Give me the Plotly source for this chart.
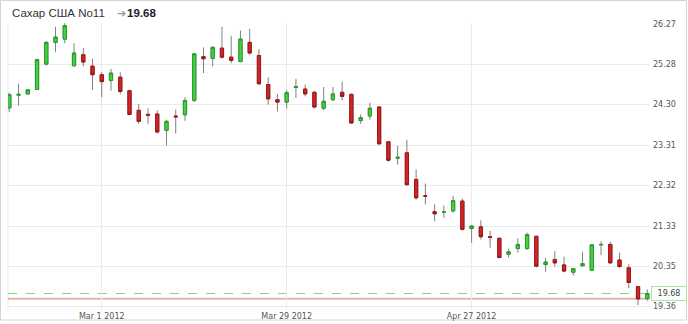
import plotly.graph_objects as go

# ---------------- data ----------------
dates = [
    "2012-02-15", "2012-02-16", "2012-02-17", "2012-02-21", "2012-02-22", "2012-02-23", "2012-02-24",
    "2012-02-27", "2012-02-28", "2012-02-29",
    "2012-03-01", "2012-03-02", "2012-03-05", "2012-03-06", "2012-03-07", "2012-03-08", "2012-03-09",
    "2012-03-12", "2012-03-13", "2012-03-14", "2012-03-15", "2012-03-16", "2012-03-19", "2012-03-20",
    "2012-03-21", "2012-03-22", "2012-03-23", "2012-03-26", "2012-03-27", "2012-03-28", "2012-03-29",
    "2012-03-30",
    "2012-04-02", "2012-04-03", "2012-04-04", "2012-04-05", "2012-04-09", "2012-04-10", "2012-04-11",
    "2012-04-12", "2012-04-13", "2012-04-16", "2012-04-17", "2012-04-18", "2012-04-19", "2012-04-20",
    "2012-04-23", "2012-04-24", "2012-04-25", "2012-04-26", "2012-04-27", "2012-04-30",
    "2012-05-01", "2012-05-02", "2012-05-03", "2012-05-04", "2012-05-07", "2012-05-08", "2012-05-09",
    "2012-05-10", "2012-05-11", "2012-05-14", "2012-05-15", "2012-05-16", "2012-05-17", "2012-05-18",
    "2012-05-21", "2012-05-22", "2012-05-23", "2012-05-24",
]
opens = [
    24.22, 24.53, 24.56, 24.67, 25.29, 25.82, 25.90, 25.25, 25.52, 25.24,
    25.03, 24.89, 24.97, 24.64, 24.16, 24.06, 24.07, 23.67, 24.02, 24.05,
    24.40, 25.47, 25.43, 25.68, 25.46, 25.35, 25.82, 25.50, 24.79, 24.42,
    24.36, 24.72, 24.68, 24.60, 24.21, 24.42, 24.60, 24.55, 23.91, 24.02,
    24.24, 23.39, 22.99, 23.12, 22.47, 22.07, 21.68, 21.67, 21.70, 21.94,
    21.27, 21.31, 21.07, 21.03, 20.64, 20.78, 20.78, 21.08, 20.39, 20.51,
    20.38, 20.20, 20.36, 20.25, 20.87, 20.88, 20.50, 20.31, 19.85, 19.56,
]
highs = [
    24.59, 24.81, 24.68, 25.42, 25.85, 26.20, 26.29, 25.80, 25.68, 25.42,
    25.09, 25.17, 25.09, 24.66, 24.32, 24.21, 24.16, 23.93, 24.18, 24.48,
    25.56, 25.70, 25.72, 26.20, 25.98, 26.11, 26.15, 25.66, 24.97, 24.56,
    24.66, 24.93, 24.79, 24.63, 24.73, 24.73, 24.86, 24.57, 24.06, 24.34,
    24.26, 23.40, 23.29, 23.44, 22.71, 22.37, 21.86, 21.83, 22.07, 22.00,
    21.35, 21.47, 21.21, 21.05, 20.78, 21.03, 21.17, 21.08, 20.55, 20.72,
    20.58, 20.31, 20.70, 20.87, 20.96, 20.95, 20.68, 20.39, 19.86, 19.78,
]
lows = [
    24.12, 24.27, 24.54, 24.66, 25.25, 25.58, 25.80, 25.23, 25.23, 24.66,
    24.48, 24.64, 24.56, 24.04, 23.83, 23.83, 23.59, 23.30, 23.59, 23.90,
    24.36, 25.07, 25.23, 25.42, 25.31, 25.34, 25.52, 24.77, 24.30, 24.13,
    24.20, 24.46, 24.50, 24.21, 24.16, 24.38, 24.40, 23.83, 23.83, 23.93,
    23.32, 22.90, 22.83, 22.33, 21.98, 21.86, 21.45, 21.53, 21.66, 21.22,
    20.92, 21.00, 20.80, 20.54, 20.56, 20.68, 20.74, 20.32, 20.21, 20.34,
    20.20, 20.12, 20.34, 20.23, 20.62, 20.41, 20.31, 19.81, 19.40, 19.50,
]
closes = [
    24.54, 24.55, 24.66, 25.40, 25.82, 25.95, 26.23, 25.56, 25.34, 25.03,
    24.86, 25.07, 24.62, 24.06, 23.89, 24.04, 23.63, 23.89, 24.00, 24.40,
    25.54, 25.42, 25.70, 25.46, 25.38, 25.90, 25.56, 24.81, 24.44, 24.36,
    24.59, 24.74, 24.56, 24.24, 24.38, 24.56, 24.50, 23.85, 23.98, 24.21,
    23.34, 22.94, 23.01, 22.34, 22.02, 22.06, 21.63, 21.68, 21.95, 21.25,
    21.33, 21.07, 21.05, 20.56, 20.70, 20.88, 21.12, 20.35, 20.45, 20.43,
    20.23, 20.29, 20.41, 20.87, 20.88, 20.43, 20.34, 19.95, 19.55, 19.68,
]
ytick_vals = [26.27, 25.28, 24.30, 23.31, 22.32, 21.33, 20.35, 19.36]
xtick_dates = ["2012-03-01", "2012-03-29", "2012-04-27"]
xtick_labels = ["Mar 1 2012", "Mar 29 2012", "Apr 27 2012"]
title_text = "Сахар США No11"
last_price = 19.68
prev_close = 19.55

# ---------------- layout geometry ----------------
W, H = 688, 324
L, R, T, B = 8, 38, 23, 14
PW, PH = W - L - R, H - T - B


def px(x):
    return (x - L) / PW


def py(y):
    return (H - B - y) / PH


WICK = "#808080"
G_FILL, G_LINE = "#3fd43f", "#2a9a2a"
R_FILL, R_LINE = "#d42424", "#9c1515"
GRID = "#ebebeb"

body_hi = [max(o, c) for o, c in zip(opens, closes)]
body_lo = [min(o, c) for o, c in zip(opens, closes)]

fig = go.Figure()
fig.add_trace(go.Candlestick(
    x=dates, open=opens, high=highs, low=lows, close=closes,
    increasing=dict(line=dict(color=WICK, width=1), fillcolor=WICK),
    decreasing=dict(line=dict(color=WICK, width=1), fillcolor=WICK),
    whiskerwidth=0, hoverinfo="skip", showlegend=False,
))
fig.add_trace(go.Candlestick(
    x=dates, open=opens, high=body_hi, low=body_lo, close=closes,
    increasing=dict(line=dict(color=G_LINE, width=1), fillcolor=G_FILL),
    decreasing=dict(line=dict(color=R_LINE, width=1), fillcolor=R_FILL),
    whiskerwidth=0, showlegend=False,
))

x_lo = (L - 9.3) / 9.246
x_hi = x_lo + PW / 9.246
y_top = 26.27 + (24 - T) / 40.9
y_bot = 26.27 - (H - B - 24) / 40.9

tickfont = dict(family="DejaVu Sans", size=8, color="#555555")

fig.update_layout(
    width=W, height=H,
    margin=dict(l=L, r=R, t=T, b=B, pad=0, autoexpand=False),
    paper_bgcolor="white", plot_bgcolor="white",
    boxgap=0.5,
    xaxis=dict(
        type="category", range=[x_lo, x_hi], rangeslider=dict(visible=False),
        tickvals=xtick_dates, ticktext=xtick_labels, ticks="", ticklabelstandoff=0,
        showgrid=True, gridcolor=GRID, gridwidth=1, showline=False, zeroline=False,
        tickfont=tickfont, automargin=False,
    ),
    yaxis=dict(
        side="right", range=[y_bot, y_top], tickvals=ytick_vals, tickformat=".2f",
        ticks="", showgrid=True, gridcolor=GRID, gridwidth=1, showline=False, zeroline=False,
        tickfont=tickfont, ticklabelstandoff=2, automargin=False,
    ),
    shapes=[
        dict(type="rect", xref="paper", yref="paper", x0=px(0.5), x1=px(686.5), y0=py(0.5), y1=py(320),
             line=dict(color="#d4d4d4", width=1), layer="below"),
        dict(type="line", xref="paper", yref="paper", x0=0, x1=0, y0=0, y1=1,
             line=dict(color=GRID, width=1), layer="below"),
        dict(type="line", xref="paper", yref="y", x0=0, x1=1, y0=prev_close, y1=prev_close,
             line=dict(color="#e5b3b3", width=2), layer="between"),
        dict(type="line", xref="paper", yref="y", x0=0, x1=1, y0=last_price, y1=last_price,
             line=dict(color="#7fd87f", width=1, dash="dash"), layer="between"),
    ],
    annotations=[
        dict(text=title_text, xref="paper", yref="paper", x=px(10), y=py(13.3),
             xanchor="left", yanchor="middle", showarrow=False,
             font=dict(family="Liberation Sans", size=11.5, color="#333333")),
        dict(text="➔", xref="paper", yref="paper", x=px(115), y=py(13.3),
             xanchor="left", yanchor="middle", showarrow=False,
             font=dict(family="DejaVu Sans", size=11, color="#9a9a9a")),
        dict(text=f"<b>{last_price:.2f}</b>", xref="paper", yref="paper", x=px(125), y=py(13.3),
             xanchor="left", yanchor="middle", showarrow=False,
             font=dict(family="Liberation Sans", size=11.5, color="#222222")),
        dict(text=f"{last_price:.2f}", xref="paper", yref="y", x=px(651), y=last_price,
             xanchor="left", yanchor="middle", showarrow=False,
             font=dict(family="DejaVu Sans", size=8, color="#444444"),
             bgcolor="white", bordercolor="#a8e4a8", borderwidth=1, borderpad=2, width=30),
    ],
)

fig.write_html("out.html")
